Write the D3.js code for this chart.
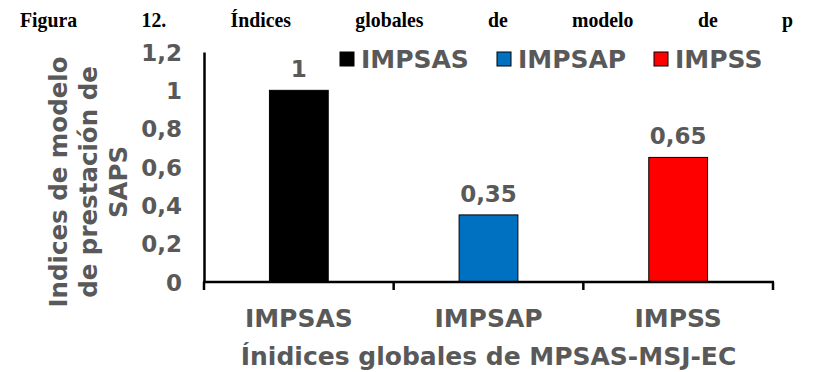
<!DOCTYPE html>
<html>
<head>
<meta charset="utf-8">
<script src="https://cdn.jsdelivr.net/npm/d3@7"></script>
<style>
  body { margin: 0; background: #fff; }
  svg { display: block; }
</style>
</head>
<body>
<svg id="chart" width="816" height="372"></svg>
<script>
const titleWords = ['Figura', '12.', 'Índices', 'globales', 'de', 'modelo', 'de', 'p'];
const categories = ['IMPSAS', 'IMPSAP', 'IMPSS'];
const values = [1, 0.35, 0.65];
const colors = ['#000000', '#0070C0', '#FF0000'];
const yTicks = [0, 0.2, 0.4, 0.6, 0.8, 1, 1.2];
const yTitleLines = ['Indices de modelo', 'de prestación de', 'SAPS'];
const xTitle = 'Ínidices globales de MPSAS-MSJ-EC';

const font = 'Verdana, "DejaVu Sans", sans-serif';
const grey = '#595959';
const fmt = d => String(d).replace('.', ',');

const svg = d3.select('#chart');

// justified caption line at the top (narrow bold serif)
const squeeze = 0.9;
const title = svg.append('g')
  .attr('font-family', '"Liberation Serif", "Times New Roman", serif')
  .attr('font-weight', 'bold')
  .attr('font-size', 22)
  .attr('fill', '#000');
const words = title.selectAll('text').data(titleWords).enter().append('text')
  .text(d => d);
const widths = words.nodes().map(n => n.getComputedTextLength() * squeeze);
const left = 20, right = 793;
const gap = (right - left - d3.sum(widths)) / (titleWords.length - 1);
let cx = left;
words.attr('transform', (d, i) => {
  const x0 = cx;
  cx += widths[i] + gap;
  return 'translate(' + x0 + ',27) scale(' + squeeze + ',1)';
});

const margin = { top: 52, right: 43, bottom: 90, left: 204 };
const width = 816 - margin.left - margin.right;
const height = 372 - margin.top - margin.bottom;

const x = d3.scaleBand().domain(categories).range([0, width])
  .paddingInner(0.69).paddingOuter(0.345);
const y = d3.scaleLinear().domain([0, 1.2]).range([height, 0]);

const g = svg.append('g')
  .attr('transform', 'translate(' + margin.left + ',' + margin.top + ')');

// bars
g.selectAll('.bar')
  .data(values)
  .enter().append('rect')
  .attr('class', 'bar')
  .attr('x', (d, i) => x(categories[i]))
  .attr('y', d => y(d))
  .attr('width', x.bandwidth())
  .attr('height', d => y(0) - y(d))
  .attr('fill', (d, i) => colors[i])
  .attr('stroke', '#000')
  .attr('stroke-width', 1);

// value labels
g.selectAll('.val')
  .data(values)
  .enter().append('text')
  .attr('class', 'val')
  .attr('x', (d, i) => x(categories[i]) + x.bandwidth() / 2)
  .attr('y', d => y(d) - 13)
  .attr('text-anchor', 'middle')
  .attr('font-family', font)
  .attr('font-weight', 'bold')
  .attr('font-size', 23)
  .attr('fill', grey)
  .text(d => fmt(d));

// y axis
const yAxis = g.append('g')
  .call(d3.axisLeft(y).tickValues(yTicks).tickFormat(fmt).tickSize(0).tickPadding(22));
yAxis.select('.domain').attr('stroke', '#000').attr('stroke-width', 2.5);
yAxis.selectAll('text')
  .attr('font-family', font)
  .attr('font-weight', 'bold')
  .attr('font-size', 23)
  .attr('fill', grey)
  .attr('dy', '0.36em');

// x axis, ticks at category boundaries
const step = x.step();
const bounds = [0].concat(categories.map(c => x(c) + x.bandwidth() / 2 + step / 2));
const xAxis = g.append('g').attr('transform', 'translate(0,' + height + ')');
xAxis.append('line')
  .attr('x1', -1).attr('x2', width + 1)
  .attr('stroke', '#000').attr('stroke-width', 2.5);
xAxis.selectAll('.tick')
  .data(bounds)
  .enter().append('line')
  .attr('class', 'tick')
  .attr('x1', d => d).attr('x2', d => d)
  .attr('y1', 0).attr('y2', 8)
  .attr('stroke', '#000').attr('stroke-width', 2.5);
xAxis.selectAll('.cat')
  .data(categories)
  .enter().append('text')
  .attr('class', 'cat')
  .attr('x', d => x(d) + x.bandwidth() / 2)
  .attr('y', 45)
  .attr('text-anchor', 'middle')
  .attr('font-family', font)
  .attr('font-weight', 'bold')
  .attr('font-size', 25)
  .attr('fill', grey)
  .text(d => d);

// x title
g.append('text')
  .attr('x', x(categories[1]) + x.bandwidth() / 2)
  .attr('y', height + 83)
  .attr('text-anchor', 'middle')
  .attr('font-family', font)
  .attr('font-weight', 'bold')
  .attr('font-size', 25)
  .attr('fill', grey)
  .text(xTitle);

// y title
const yTitle = svg.append('text')
  .attr('transform', 'translate(58,182) rotate(-90)')
  .attr('text-anchor', 'middle')
  .attr('font-family', font)
  .attr('font-weight', 'bold')
  .attr('font-size', 24.5)
  .attr('fill', grey);
yTitle.selectAll('tspan')
  .data(yTitleLines)
  .enter().append('tspan')
  .attr('x', 0)
  .attr('y', (d, i) => i * 30 + 9)
  .text(d => d);

// legend
const legend = svg.append('g').attr('transform', 'translate(340,59)');
const item = legend.selectAll('g')
  .data(categories)
  .enter().append('g')
  .attr('transform', (d, i) => 'translate(' + i * 157 + ',0)');
item.append('rect')
  .attr('x', 0).attr('y', -7)
  .attr('width', 14).attr('height', 14)
  .attr('fill', (d, i) => colors[i])
  .attr('stroke', '#000').attr('stroke-width', 1);
item.append('text')
  .attr('x', 21)
  .attr('y', 0)
  .attr('dy', '0.36em')
  .attr('font-family', font)
  .attr('font-weight', 'bold')
  .attr('font-size', 25)
  .attr('fill', grey)
  .text(d => d);
</script>
</body>
</html>
